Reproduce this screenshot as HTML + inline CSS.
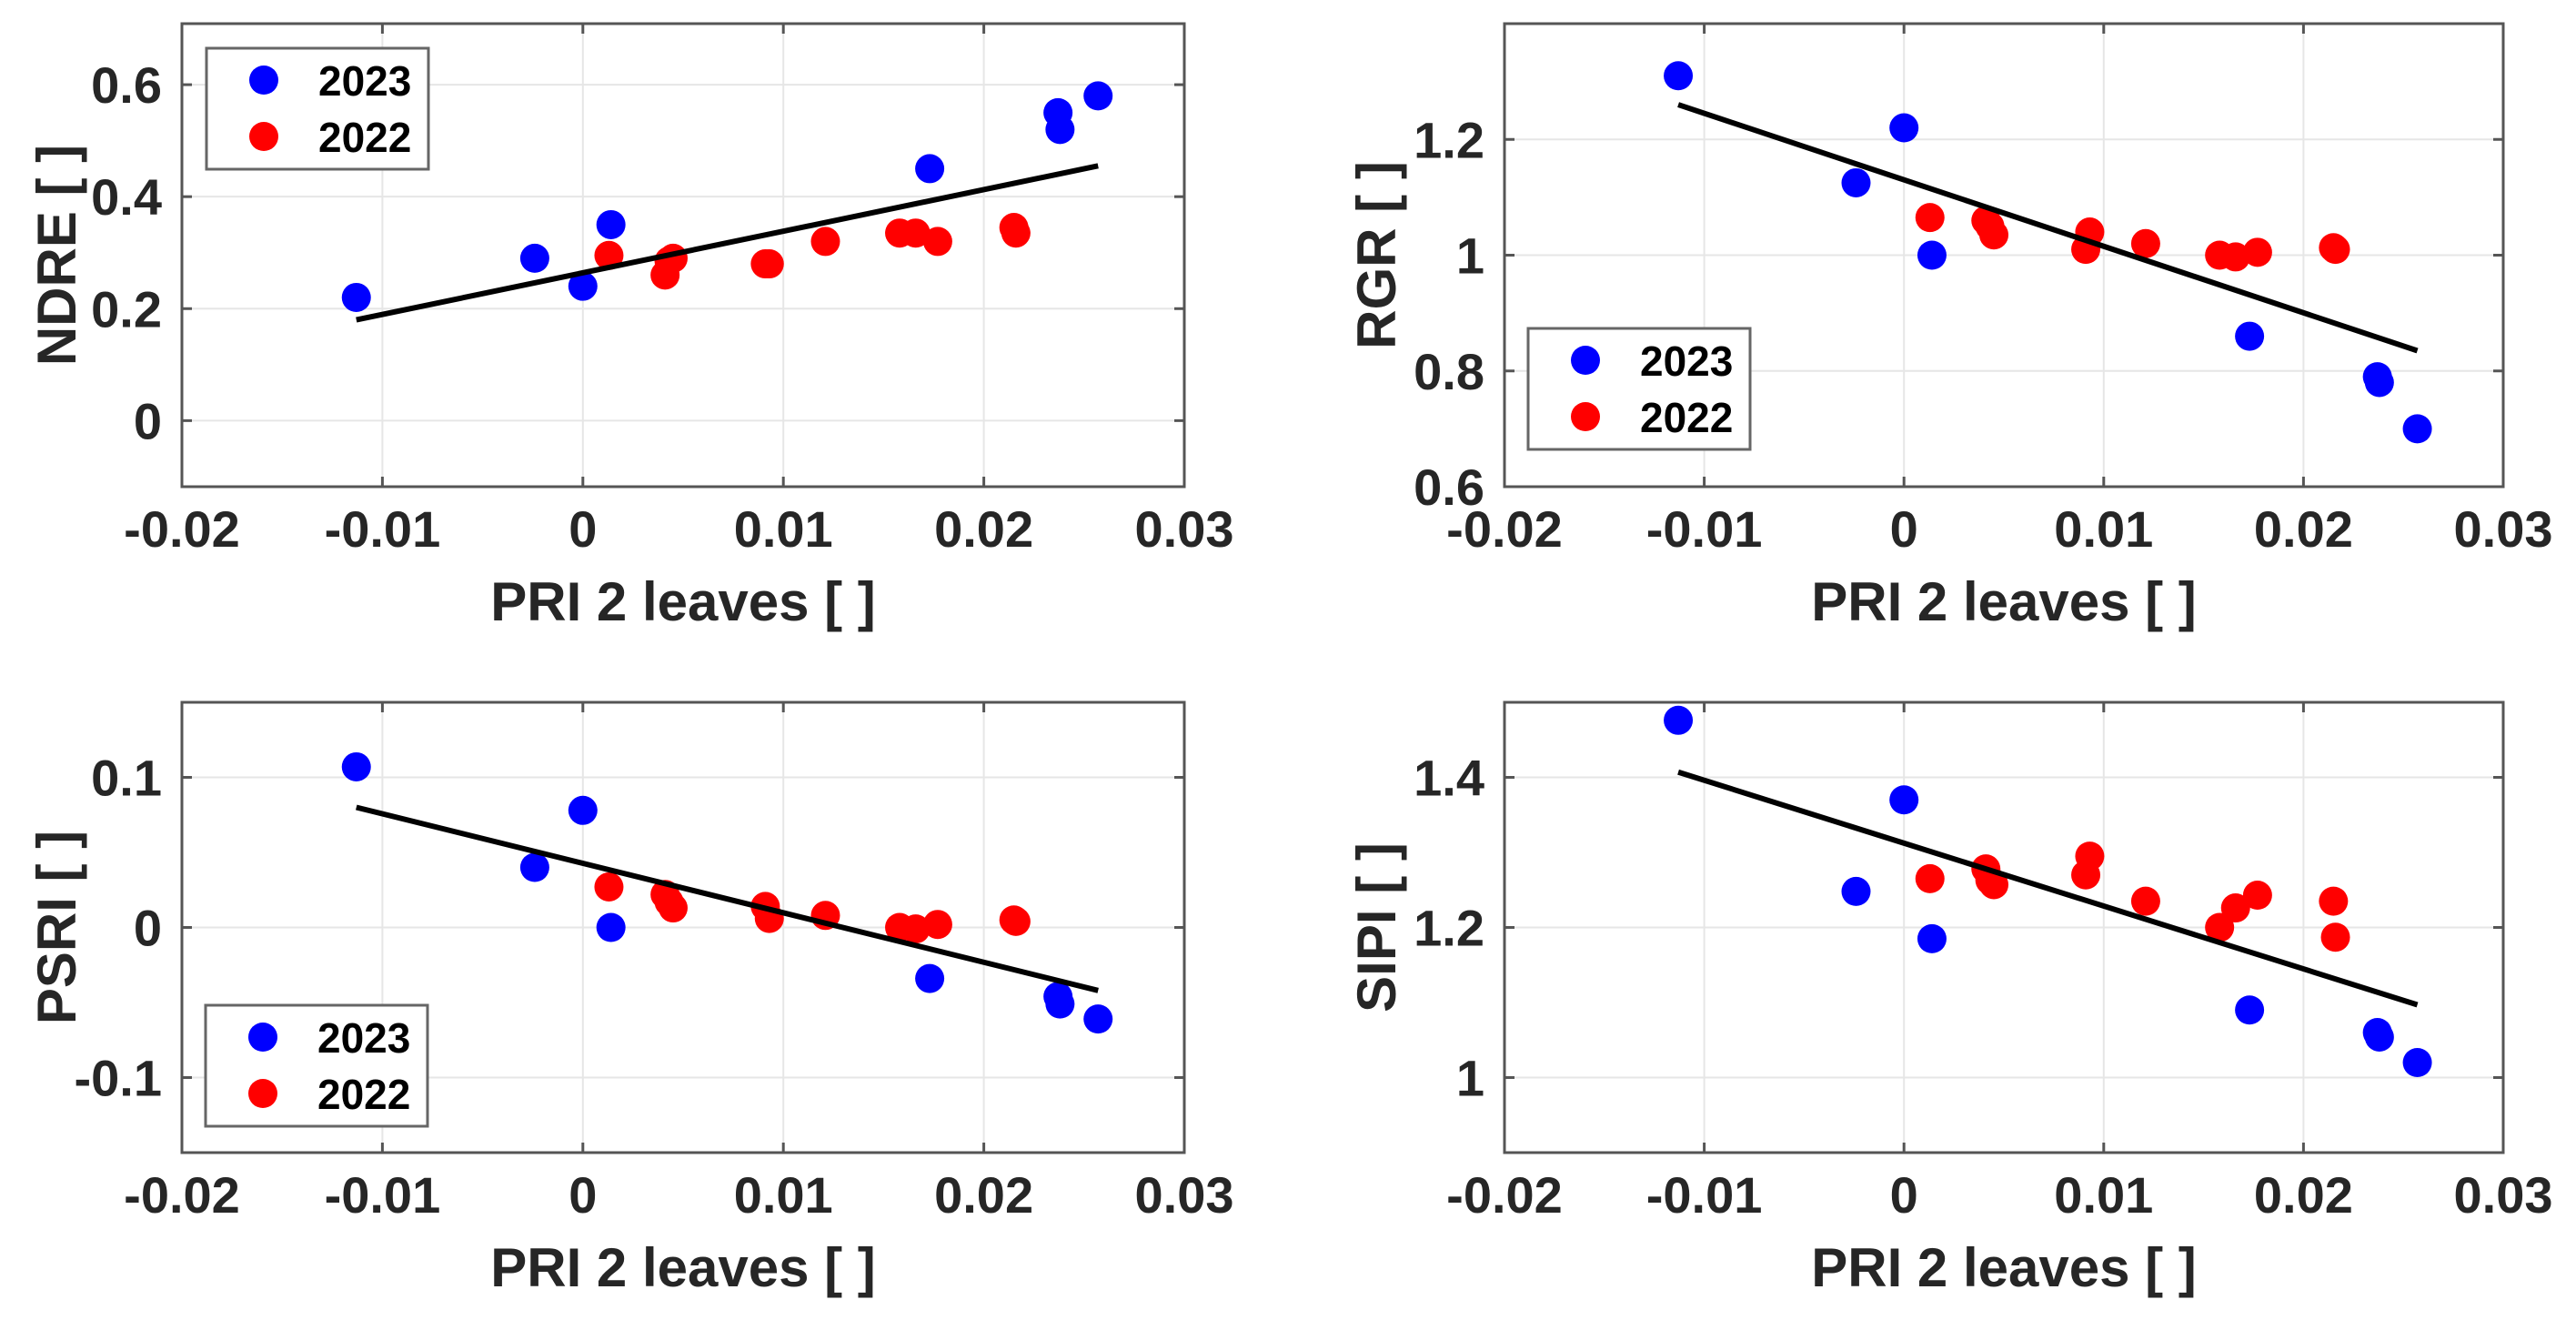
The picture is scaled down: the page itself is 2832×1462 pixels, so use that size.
<!DOCTYPE html>
<html><head><meta charset="utf-8">
<style>
html,body{margin:0;padding:0;background:#fff;}
svg{display:block;font-family:"Liberation Sans",Arial,sans-serif;font-weight:bold;}
</style></head>
<body>
<svg id="fig" width="2832" height="1462" viewBox="0 0 2832 1462" xmlns="http://www.w3.org/2000/svg"></svg>
<script>
const xTicks = [-0.02, -0.01, 0, 0.01, 0.02, 0.03];
const xTickLabels = ["-0.02", "-0.01", "0", "0.01", "0.02", "0.03"];
const blueX = [-0.0113, -0.0024, 0.0, 0.0014, 0.0173, 0.0237, 0.0238, 0.0257];
const redX = [0.0013, 0.0041, 0.0043, 0.0045, 0.0091, 0.0093, 0.0121, 0.0158, 0.0166, 0.0177, 0.0215, 0.0216];
const ndreBlue = [0.22, 0.29, 0.24, 0.35, 0.45, 0.55, 0.52, 0.58];
const ndreRed = [0.295, 0.26, 0.285, 0.29, 0.28, 0.28, 0.32, 0.335, 0.335, 0.32, 0.345, 0.335];
const ndreFit = [0.18, 0.455];
const rgrBlue = [1.31, 1.125, 1.22, 1.0, 0.86, 0.79, 0.78, 0.70];
const rgrRed = [1.065, 1.06, 1.05, 1.035, 1.01, 1.04, 1.02, 1.0, 0.997, 1.005, 1.013, 1.01];
const rgrFit = [1.26, 0.835];
const psriBlue = [0.107, 0.04, 0.078, 0.0, -0.034, -0.046, -0.051, -0.061];
const psriRed = [0.027, 0.022, 0.017, 0.013, 0.014, 0.006, 0.008, 0.0, -0.001, 0.002, 0.005, 0.004];
const psriFit = [0.08, -0.042];
const sipiBlue = [1.476, 1.248, 1.37, 1.185, 1.09, 1.06, 1.054, 1.02];
const sipiRed = [1.265, 1.278, 1.263, 1.257, 1.27, 1.295, 1.235, 1.2, 1.226, 1.243, 1.235, 1.187];
const sipiFit = [1.407, 1.097];
const fitX = [-0.0113, 0.0257];
const legendLabels = ["2023", "2022"];

const NS = "http://www.w3.org/2000/svg";
const svg = document.getElementById('fig');
function mk(tag, attrs, parent) {
  const e = document.createElementNS(NS, tag);
  for (const k in attrs) e.setAttribute(k, attrs[k]);
  (parent || svg).appendChild(e);
  return e;
}

const panels = [
  {id:"ndre", title:"NDRE [ ]", L:200, R:1302, T:26, B:535, ymin:-0.118, ymax:0.709, yt:[0,0.2,0.4,0.6], ytl:["0","0.2","0.4","0.6"], b:ndreBlue, r:ndreRed, f:ndreFit, leg:[227,53], ylx:62},
  {id:"rgr", title:"RGR [ ]", L:1654, R:2752, T:26, B:535, ymin:0.6, ymax:1.4, yt:[0.6,0.8,1,1.2], ytl:["0.6","0.8","1","1.2"], b:rgrBlue, r:rgrRed, f:rgrFit, leg:[1680,361], ylx:1513},
  {id:"psri", title:"PSRI [ ]", L:200, R:1302, T:772, B:1267, ymin:-0.15, ymax:0.15, yt:[-0.1,0,0.1], ytl:["-0.1","0","0.1"], b:psriBlue, r:psriRed, f:psriFit, leg:[226,1105], ylx:62},
  {id:"sipi", title:"SIPI [ ]", L:1654, R:2752, T:772, B:1267, ymin:0.9, ymax:1.5, yt:[1,1.2,1.4], ytl:["1","1.2","1.4"], b:sipiBlue, r:sipiRed, f:sipiFit, leg:null, ylx:1513}
];

panels.forEach(p => {
  const g = mk('g', {});
  
  
  const sx = v => p.L + (v - xTicks[0]) / (xTicks[xTicks.length-1] - xTicks[0]) * (p.R - p.L);
  const sy = v => p.B - (v - p.ymin) / (p.ymax - p.ymin) * (p.B - p.T);
  xTicks.forEach(t => { const l = mk('line', {x1:sx(t), x2:sx(t), y1:p.T, y2:p.B, stroke:'#e6e6e6', 'stroke-width':2}, g);
      });
  p.yt.forEach(t => { const l = mk('line', {x1:p.L, x2:p.R, y1:sy(t), y2:sy(t), stroke:'#e6e6e6', 'stroke-width':2}, g);
      });
  xTicks.forEach((t, i) => {
    mk('line', {x1:sx(t), x2:sx(t), y1:p.B, y2:p.B-11, stroke:'#555', 'stroke-width':3}, g);
    mk('line', {x1:sx(t), x2:sx(t), y1:p.T, y2:p.T+11, stroke:'#555', 'stroke-width':3}, g);
    const tx = mk('text', {x:sx(t), y:p.B+66, 'text-anchor':'middle', 'font-size':56, fill:'#262626'}, g);
    tx.textContent = xTickLabels[i];
     
  });
  p.yt.forEach((t, i) => {
    mk('line', {x1:p.L, x2:p.L+11, y1:sy(t), y2:sy(t), stroke:'#555', 'stroke-width':3}, g);
    mk('line', {x1:p.R, x2:p.R-11, y1:sy(t), y2:sy(t), stroke:'#555', 'stroke-width':3}, g);
    const tx = mk('text', {x:p.L-22, y:sy(t)+20, 'text-anchor':'end', 'font-size':56, fill:'#262626'}, g);
    tx.textContent = p.ytl[i];
     
  });
  const box = mk('rect', {x:p.L, y:p.T, width:p.R-p.L, height:p.B-p.T, fill:'none', stroke:'#555', 'stroke-width':3}, g);
   
  const xt = mk('text', {x:(p.L+p.R)/2, y:p.B+147, 'text-anchor':'middle', 'font-size':60, fill:'#262626'}, g);
  xt.textContent = 'PRI 2 leaves [ ]';
   
  const cy = (p.T+p.B)/2;
  const yl = mk('text', {x:p.ylx, y:cy, 'text-anchor':'middle', 'font-size':60, fill:'#262626', transform:`rotate(-90 ${p.ylx} ${cy}) translate(0 21)`}, g);
  yl.textContent = p.title;
   
  p.r.forEach((v, i) => { const c = mk('circle', {cx:sx(redX[i]), cy:sy(v), r:16, fill:'#ff0000'}, g);
      });
  p.b.forEach((v, i) => { const c = mk('circle', {cx:sx(blueX[i]), cy:sy(v), r:16, fill:'#0000ff'}, g);
      });
  const fl = mk('line', {x1:sx(fitX[0]), y1:sy(p.f[0]), x2:sx(fitX[1]), y2:sy(p.f[1]), stroke:'#000', 'stroke-width':6}, g);
   
  if (p.leg) {
    const lg = mk('g', {}, g);
     
    const [lx, ly] = p.leg;
    mk('rect', {x:lx, y:ly, width:244, height:133, fill:'#fff', stroke:'#666', 'stroke-width':3}, lg);
    const cols = ['#0000ff', '#ff0000'];
    legendLabels.forEach((lab, i) => {
      const c = mk('circle', {cx:lx+63, cy:ly+35+i*62, r:16, fill:cols[i]}, lg);
       
      const t = mk('text', {x:lx+123, y:ly+52+i*62, 'font-size':46, fill:'#000'}, lg);
      t.textContent = lab;
       
    });
  }
});
</script>
</body></html>
